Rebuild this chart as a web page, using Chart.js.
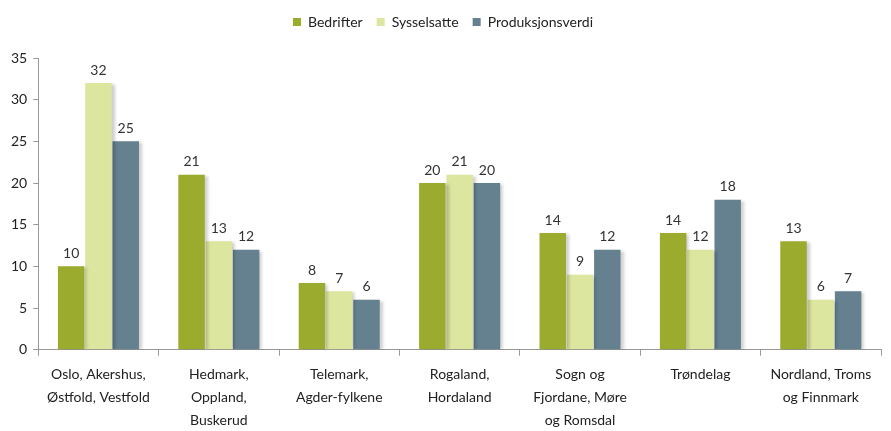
<!DOCTYPE html>
<html>
<head>
<meta charset="utf-8">
<script src="https://cdn.jsdelivr.net/npm/chart.js@4/dist/chart.umd.min.js"></script>
<style>
  html,body{margin:0;padding:0;background:#fff;}
  #wrap{width:891px;height:431px;position:relative;}
</style>
</head>
<body>
<div id="wrap"><canvas id="c"></canvas></div>
<script>
// Data
const categories = [
  ["Oslo, Akershus,","Østfold, Vestfold"],
  ["Hedmark,","Oppland,","Buskerud"],
  ["Telemark,","Agder-fylkene"],
  ["Rogaland,","Hordaland"],
  ["Sogn og","Fjordane, Møre","og Romsdal"],
  ["Trøndelag"],
  ["Nordland, Troms","og Finnmark"]
];
const bedrifter        = [10, 21, 8, 20, 14, 14, 13];
const sysselsatte      = [32, 13, 7, 21, 9, 12, 6];
const produksjonsverdi = [25, 12, 6, 20, 12, 18, 7];
const yTicks = [0, 5, 10, 15, 20, 25, 30, 35];

const FONT = "Lato, 'Open Sans', sans-serif";

// ekstra luft under legenden
const legendGap = {
  id: "legendGap",
  beforeInit(c){
    const fit = c.legend.fit;
    c.legend.fit = function(){ fit.call(this); this.height += 19; };
  }
};

// skygge bak søylene
const shadow = {
  id: "shadow",
  beforeDatasetsDraw(c){
    const x = c.ctx;
    x.save();
    x.shadowColor = "rgba(0,0,0,0.2)";
    x.shadowOffsetX = 3;
    x.shadowOffsetY = 1;
    x.shadowBlur = 3;
  },
  afterDatasetsDraw(c){ c.ctx.restore(); }
};

// tall over søylene
const labels = {
  id: "labels",
  afterDatasetsDraw(c){
    const x = c.ctx;
    x.save();
    x.font = "14px " + FONT;
    x.fillStyle = "#333";
    x.textAlign = "center";
    x.textBaseline = "bottom";
    c.data.datasets.forEach((ds, i) => {
      c.getDatasetMeta(i).data.forEach((bar, j) => {
        x.fillText(ds.data[j], bar.x, bar.y - 6);
      });
    });
    x.restore();
  }
};

new Chart(document.getElementById("c"), {
  type: "bar",
  data: {
    labels: categories,
    datasets: [
      { label: "Bedrifter", data: bedrifter, backgroundColor: "#9bab2e" },
      { label: "Sysselsatte", data: sysselsatte, backgroundColor: "#dde69e" },
      { label: "Produksjonsverdi", data: produksjonsverdi, backgroundColor: "#65818f" }
    ]
  },
  options: {
    responsive: true, maintainAspectRatio: false, animation: false,
    layout: { padding: { left: 5, right: 10, top: 1, bottom: -8 } },
    datasets: { bar: { categoryPercentage: 0.68, barPercentage: 0.97 } },
    plugins: {
      legend: {
        position: "top",
        labels: {
          color: "#222", boxWidth: 8, boxHeight: 8, padding: 14,
          font: { family: FONT, size: 14 }
        }
      },
      tooltip: { enabled: false }
    },
    scales: {
      x: {
        grid: { display: true, drawOnChartArea: false, drawTicks: true, tickLength: 6, color: "#999", offset: true },
        border: { display: true, color: "#999" },
        ticks: { color: "#222", font: { family: FONT, size: 14, lineHeight: 1.65 }, padding: 7, maxRotation: 0, autoSkip: false }
      },
      y: {
        min: 0, max: 35,
        afterBuildTicks: a => { a.ticks = yTicks.map(v => ({ value: v })); },
        grid: { display: true, drawOnChartArea: false, drawTicks: true, tickLength: 5, color: "#999" },
        border: { display: true, color: "#999" },
        ticks: { color: "#222", font: { family: FONT, size: 14 }, padding: 6 }
      }
    }
  },
  plugins: [legendGap, shadow, labels]
});
</script>
</body>
</html>
